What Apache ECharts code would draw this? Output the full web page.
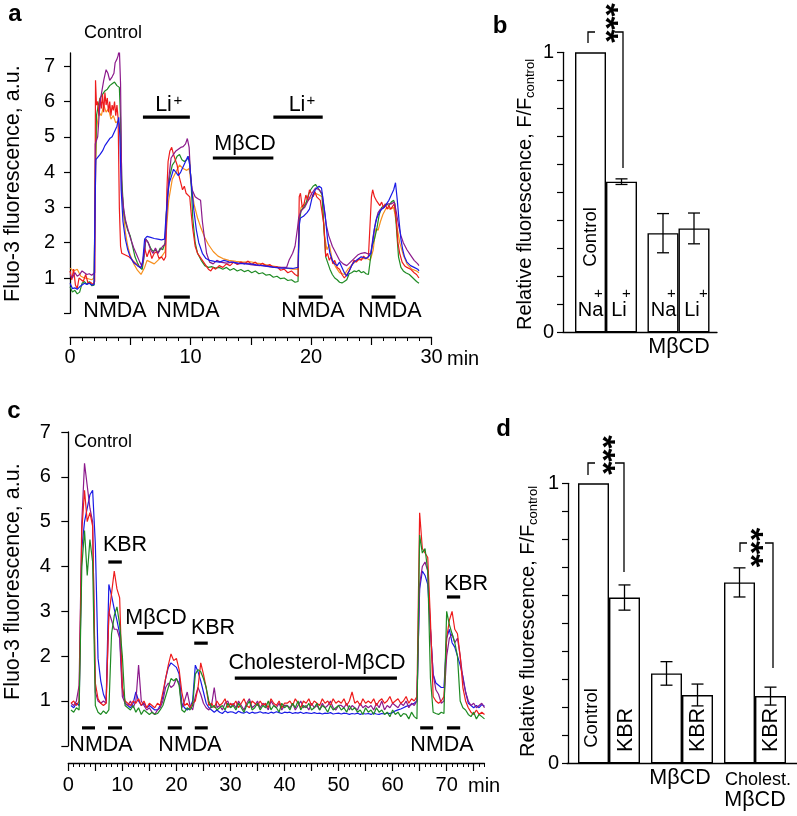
<!DOCTYPE html>
<html><head><meta charset="utf-8">
<script src="https://cdn.jsdelivr.net/npm/echarts@6/dist/echarts.min.js"></script>
<style>html,body{margin:0;padding:0;background:#fff}#c{width:797px;height:816px}</style>
</head><body><div id="c"></div>
<script>
// ---------------- DATA ----------------
// Panel a: Fluo-3 traces, [time (min), fluorescence (a.u.)]
const aOrange = [[0,1.28],[0.3,1.2],[0.6,1.25],[0.9,1.05],[1.2,1.0],[1.5,0.98],[1.8,0.95],[2.0,1.0],[2.1,3.5],[2.2,5.2],[2.4,5.7],[2.6,5.6],[2.8,5.9],[3.0,5.7],[3.2,5.8],[3.4,5.5],[3.6,5.6],[3.8,5.4],[4.0,5.45],[4.15,5.3],[4.3,3.6],[4.45,2.8],[4.6,2.3],[4.8,1.9],[5.0,1.65],[5.3,1.4],[5.6,1.22],[5.9,1.1],[6.0,1.08],[6.2,1.3],[6.4,1.5],[6.7,1.45],[7.0,1.4],[7.3,1.5],[7.6,1.6],[7.9,1.75],[8.0,2.3],[8.2,3.2],[8.5,3.8],[8.8,4.0],[9.1,4.2],[9.4,4.1],[9.7,4.05],[9.9,4.1],[10.1,3.6],[10.3,3.1],[10.6,2.7],[10.9,2.4],[11.2,2.15],[11.5,1.95],[11.9,1.75],[12.3,1.62],[12.7,1.55],[13.2,1.5],[13.8,1.47],[14.4,1.45],[15.0,1.46],[15.5,1.42],[16.0,1.4],[16.5,1.36],[17.0,1.33],[17.5,1.3],[18.0,1.28],[18.5,1.25],[18.95,1.25],[19.05,2.6],[19.2,3.0],[19.5,3.1],[19.8,3.2],[20.1,3.3],[20.4,3.4],[20.7,3.35],[20.95,3.3],[21.15,2.2],[21.35,1.8],[21.55,1.95],[21.8,1.5],[22.1,1.3],[22.4,1.15],[22.8,1.1],[23.1,1.25],[23.5,1.4],[23.9,1.5],[24.3,1.55],[24.7,1.55],[24.95,1.5],[25.2,1.8],[25.4,2.4],[25.6,2.35],[25.8,2.6],[26.0,2.8],[26.3,3.0],[26.6,2.95],[26.9,3.0],[27.1,2.6],[27.4,2.0],[27.7,1.65],[28.0,1.4],[28.4,1.25],[28.8,1.2],[29.0,1.15]];
const aGreen = [[0,0.75],[0.2,0.6],[0.4,0.65],[0.6,0.55],[0.8,0.6],[1.0,0.85],[1.2,0.9],[1.4,0.82],[1.6,0.9],[1.8,0.78],[2.0,0.8],[2.1,4.0],[2.2,5.6],[2.35,5.9],[2.5,6.1],[2.7,6.2],[2.9,6.3],[3.1,6.35],[3.3,6.45],[3.5,6.5],[3.7,6.55],[3.9,6.45],[4.1,6.4],[4.2,5.5],[4.3,3.8],[4.45,2.9],[4.6,2.6],[4.8,2.35],[5.0,2.2],[5.2,1.9],[5.4,1.6],[5.6,1.43],[5.8,1.3],[6.0,1.24],[6.15,1.6],[6.3,2.1],[6.5,2.0],[6.7,1.85],[6.9,1.75],[7.1,1.8],[7.3,1.7],[7.5,1.85],[7.7,1.8],[7.9,2.0],[8.0,2.8],[8.15,3.5],[8.3,3.9],[8.5,4.2],[8.7,4.3],[8.9,4.45],[9.1,4.5],[9.3,4.35],[9.5,4.3],[9.7,4.35],[9.9,4.45],[10.05,3.8],[10.2,2.7],[10.4,2.0],[10.6,1.7],[10.9,1.5],[11.2,1.35],[11.5,1.3],[11.8,1.32],[12.1,1.28],[12.4,1.3],[12.7,1.25],[13.0,1.3],[13.3,1.22],[13.6,1.27],[13.9,1.2],[14.2,1.24],[14.5,1.18],[14.8,1.22],[15.1,1.15],[15.4,1.2],[15.7,1.12],[16.0,1.15],[16.3,1.08],[16.6,1.1],[16.9,1.02],[17.2,1.05],[17.5,0.98],[17.8,1.0],[18.1,0.93],[18.4,0.95],[18.7,0.88],[18.95,0.9],[19.05,2.6],[19.2,2.9],[19.4,3.0],[19.6,3.1],[19.8,3.35],[20.0,3.5],[20.2,3.6],[20.4,3.65],[20.6,3.55],[20.8,3.45],[20.95,3.35],[21.1,2.4],[21.25,1.6],[21.4,1.45],[21.6,1.25],[21.8,1.1],[22.0,1.0],[22.2,0.95],[22.4,0.88],[22.6,0.86],[22.8,0.9],[23.0,0.95],[23.2,1.12],[23.4,1.15],[23.6,1.2],[23.8,1.18],[24.0,1.22],[24.2,1.15],[24.4,1.18],[24.6,1.12],[24.8,1.1],[24.95,1.12],[25.1,1.9],[25.3,2.1],[25.5,2.4],[25.7,2.8],[25.9,3.0],[26.1,3.05],[26.3,3.1],[26.5,3.05],[26.7,3.15],[26.9,3.2],[27.0,3.1],[27.15,2.3],[27.3,1.6],[27.5,1.3],[27.7,1.2],[27.9,1.15],[28.2,1.1],[28.5,1.0],[28.8,0.9],[29.0,0.85]];
const aRed = [[0,1.2],[0.15,0.95],[0.3,1.25],[0.45,0.8],[0.6,0.7],[0.75,1.0],[0.9,1.05],[1.1,0.9],[1.3,1.1],[1.5,0.85],[1.7,0.88],[1.9,0.82],[2.05,0.9],[2.12,6.6],[2.2,5.9],[2.3,6.0],[2.4,5.6],[2.5,6.1],[2.6,5.8],[2.7,6.2],[2.8,5.7],[2.9,6.25],[3.0,5.9],[3.1,6.1],[3.2,5.7],[3.3,6.0],[3.4,5.6],[3.5,5.9],[3.6,5.75],[3.7,6.0],[3.8,5.6],[3.9,5.9],[4.0,5.5],[4.1,3.0],[4.2,1.9],[4.3,1.7],[4.6,1.65],[4.9,1.6],[5.2,1.5],[5.5,1.4],[5.8,1.3],[6.0,1.35],[6.2,1.85],[6.4,1.6],[6.6,1.8],[6.8,1.55],[7.0,1.7],[7.2,1.75],[7.4,1.55],[7.6,1.6],[7.8,1.5],[7.95,1.6],[8.05,3.5],[8.15,4.3],[8.3,4.6],[8.45,4.7],[8.6,4.5],[8.75,4.55],[8.9,4.2],[9.05,3.9],[9.2,3.7],[9.35,3.5],[9.5,3.6],[9.65,3.4],[9.8,3.45],[9.95,3.3],[10.05,2.9],[10.2,2.4],[10.4,1.9],[10.6,1.7],[10.9,1.55],[11.1,1.45],[11.3,1.35],[11.5,1.25],[11.7,1.2],[11.9,1.3],[12.1,1.25],[12.4,1.35],[12.7,1.3],[13.0,1.4],[13.3,1.35],[13.6,1.45],[13.9,1.38],[14.2,1.45],[14.5,1.4],[14.8,1.48],[15.1,1.38],[15.4,1.45],[15.7,1.35],[16.0,1.42],[16.3,1.34],[16.6,1.38],[16.9,1.3],[17.2,1.32],[17.5,1.22],[17.8,1.25],[18.1,1.15],[18.4,1.2],[18.7,1.1],[18.95,1.05],[19.05,3.3],[19.15,3.4],[19.3,3.0],[19.45,3.1],[19.6,3.35],[19.75,3.2],[19.9,3.5],[20.05,3.55],[20.2,3.3],[20.35,3.45],[20.5,3.3],[20.65,3.35],[20.8,3.2],[20.95,3.25],[21.1,2.5],[21.25,1.6],[21.4,1.7],[21.55,1.5],[21.7,1.6],[21.85,1.4],[22.0,1.5],[22.2,1.3],[22.4,1.25],[22.6,1.1],[22.8,1.0],[23.0,1.1],[23.2,1.2],[23.4,1.35],[23.6,1.5],[23.8,1.45],[24.0,1.55],[24.2,1.5],[24.4,1.62],[24.6,1.55],[24.8,1.6],[24.95,1.55],[25.05,3.3],[25.15,3.5],[25.3,3.3],[25.45,3.2],[25.6,3.25],[25.75,3.05],[25.9,3.15],[26.05,3.0],[26.2,3.1],[26.35,2.95],[26.5,3.05],[26.65,2.95],[26.8,3.0],[26.95,3.1],[27.1,2.7],[27.25,2.0],[27.4,1.7],[27.6,1.45],[27.8,1.35],[28.0,1.3],[28.3,1.25],[28.6,1.15],[28.8,1.1],[29.0,1.0]];
const aPurple = [[0,1.1],[0.2,1.0],[0.4,1.15],[0.6,1.05],[0.8,1.1],[1.0,1.2],[1.2,1.15],[1.4,1.1],[1.6,1.12],[1.8,1.08],[2.05,1.15],[2.1,4.8],[2.3,5.0],[2.5,6.0],[2.8,6.6],[3.0,6.9],[3.15,6.8],[3.3,6.6],[3.5,6.7],[3.65,6.8],[3.75,7.1],[3.9,7.2],[4.0,7.3],[4.1,7.5],[4.2,6.5],[4.3,3.5],[4.45,3.0],[4.6,2.65],[4.8,2.4],[5.0,2.15],[5.3,1.85],[5.55,1.65],[5.8,1.45],[5.95,1.35],[6.1,1.5],[6.3,2.1],[6.5,2.0],[6.7,1.8],[6.9,1.7],[7.1,1.85],[7.3,1.7],[7.5,1.8],[7.7,1.9],[7.9,1.95],[8.0,2.5],[8.2,3.8],[8.4,4.4],[8.6,4.5],[8.8,4.6],[9.0,4.65],[9.2,4.7],[9.4,4.72],[9.6,4.8],[9.75,4.95],[9.9,4.7],[10.0,4.0],[10.15,3.5],[10.4,3.3],[10.6,3.25],[10.85,3.2],[11.0,2.6],[11.15,2.2],[11.35,1.7],[11.6,1.45],[11.9,1.4],[12.2,1.5],[12.5,1.45],[13.0,1.42],[13.5,1.45],[14.0,1.4],[14.5,1.42],[15.0,1.38],[15.5,1.36],[16.0,1.35],[16.5,1.32],[17.0,1.3],[17.5,1.3],[18.0,1.3],[18.2,1.5],[18.5,1.7],[18.7,1.9],[18.9,2.4],[19.0,2.7],[19.2,2.9],[19.5,3.0],[19.8,3.2],[20.1,3.4],[20.4,3.55],[20.7,3.5],[20.95,3.4],[21.1,3.0],[21.3,2.5],[21.5,2.2],[21.8,1.9],[22.1,1.7],[22.4,1.5],[22.7,1.4],[23.0,1.35],[23.3,1.45],[23.6,1.55],[23.9,1.65],[24.2,1.7],[24.5,1.72],[24.8,1.68],[25.0,1.7],[25.2,2.2],[25.4,2.6],[25.6,2.85],[25.8,2.95],[26.1,3.0],[26.4,3.1],[26.7,3.1],[26.95,3.15],[27.1,2.9],[27.3,2.5],[27.5,2.2],[27.7,2.0],[28.0,1.8],[28.3,1.65],[28.6,1.5],[28.9,1.4],[29.0,1.35]];
const aBlue = [[0,0.85],[0.2,0.7],[0.4,0.72],[0.6,0.68],[0.8,0.75],[1.0,0.8],[1.2,0.85],[1.4,0.82],[1.6,0.85],[1.8,0.8],[2.0,0.82],[2.08,3.0],[2.15,4.35],[2.3,4.4],[2.5,4.5],[2.7,4.6],[2.9,4.75],[3.1,4.85],[3.3,4.95],[3.5,5.0],[3.7,5.15],[3.9,5.3],[4.05,5.55],[4.15,5.0],[4.25,3.5],[4.4,2.6],[4.6,2.1],[4.8,1.8],[5.0,1.6],[5.3,1.43],[5.6,1.35],[5.9,1.28],[6.05,1.5],[6.2,2.1],[6.4,2.18],[6.7,2.15],[7.0,2.12],[7.3,2.1],[7.6,2.08],[7.85,2.1],[7.95,2.6],[8.1,3.3],[8.25,3.7],[8.4,3.85],[8.6,4.08],[8.8,4.0],[9.0,3.9],[9.2,4.0],[9.4,4.15],[9.6,4.3],[9.8,4.45],[9.95,4.2],[10.1,3.58],[10.3,2.9],[10.5,2.36],[10.7,2.0],[11.0,1.7],[11.3,1.55],[11.6,1.5],[12.0,1.47],[12.4,1.45],[12.8,1.5],[13.2,1.46],[13.6,1.44],[14.0,1.42],[14.5,1.4],[15.0,1.4],[15.5,1.37],[16.0,1.35],[16.5,1.33],[17.0,1.3],[17.5,1.28],[18.0,1.28],[18.5,1.27],[18.95,1.3],[19.05,2.5],[19.15,2.7],[19.4,2.75],[19.7,2.85],[19.9,2.95],[20.1,3.25],[20.3,3.45],[20.5,3.55],[20.7,3.6],[20.9,3.55],[21.05,3.5],[21.2,2.8],[21.4,2.1],[21.6,1.7],[21.8,1.5],[22.0,1.4],[22.2,1.35],[22.4,1.45],[22.6,1.3],[22.8,1.15],[23.0,1.05],[23.2,1.2],[23.4,1.35],[23.6,1.45],[23.8,1.5],[24.0,1.55],[24.2,1.6],[24.4,1.58],[24.6,1.55],[24.8,1.6],[25.0,1.7],[25.15,2.0],[25.3,2.4],[25.5,2.7],[25.7,2.85],[25.9,2.95],[26.1,3.0],[26.3,3.1],[26.5,3.2],[26.7,3.35],[26.9,3.5],[27.05,3.7],[27.2,3.2],[27.35,2.6],[27.5,2.1],[27.65,1.8],[27.8,1.6],[28.0,1.45],[28.3,1.35],[28.6,1.3],[28.9,1.25],[29.0,1.2]];
// Panel a stimulus periods [start, end] (min)
const aNmda = [[2.24,4.07],[7.8,9.96],[19.0,21.0],[25.06,27.05]];
const aLi = [[6.06,9.96],[16.9,21.0]];
const aMbcd = [[11.87,16.9]];

// Panel c: Fluo-3 traces sampled every 0.5 min from t = 0.5 min
const C_T0 = 0.5, C_DT = 0.5;
const cRed = [
 0.95,1.0,0.9,1.0,4.8,5.7,5.0,5.2,4.9,1.4,
 1.05,0.95,0.9,0.95,2.9,3.4,3.9,3.5,3.3,1.3,
 1.0,0.95,0.9,1.0,0.95,1.05,0.9,1.0,0.85,0.95,
 0.9,0.85,0.95,0.9,1.2,1.5,1.8,2.05,1.9,1.95,
 1.7,1.2,0.9,0.95,0.85,0.95,1.0,1.3,1.85,1.6,
 1.3,0.9,0.95,0.85,1.0,0.9,0.95,1.05,0.85,0.95,
 0.9,1.0,0.85,0.95,1.05,0.9,0.85,1.0,0.95,0.9,
 1.0,0.9,0.95,0.85,1.05,0.95,0.9,1.0,0.85,0.95,
 0.95,1.0,0.9,1.05,0.95,0.85,1.0,0.95,1.05,0.9,
 1.0,0.95,0.9,1.05,0.95,1.0,0.9,1.05,0.95,1.0,
 0.95,1.05,0.9,1.0,1.2,0.95,1.0,0.9,1.05,0.95,
 1.0,0.95,1.05,0.9,1.0,1.05,0.95,1.0,1.1,0.95,
 1.0,1.05,0.95,1.0,1.1,0.95,1.05,1.0,1.1,5.2,
 4.4,4.3,4.2,2.8,1.1,1.0,0.95,1.0,1.1,2.4,
 2.8,3.0,2.6,2.5,2.0,1.3,1.0,0.85,0.75,0.7,
 0.8,0.7,0.75,0.7];
const cBlue = [
 0.9,0.85,0.95,0.9,4.4,5.0,5.3,5.6,5.7,4.5,
 1.95,1.45,1.15,1.0,3.6,3.35,3.05,2.8,2.5,1.3,
 0.95,0.9,0.85,0.95,1.2,1.0,0.9,0.95,0.85,0.9,
 0.85,0.8,0.8,0.9,1.1,1.5,1.75,1.85,1.8,1.75,
 1.6,0.95,0.85,0.8,0.85,1.0,1.8,1.65,1.45,1.2,
 0.95,0.85,0.8,0.75,0.8,0.75,0.72,0.78,0.74,0.76,
 0.75,0.72,0.77,0.74,0.73,0.76,0.72,0.75,0.73,0.74,
 0.76,0.73,0.74,0.72,0.75,0.73,0.76,0.74,0.72,0.75,
 0.74,0.75,0.72,0.74,0.73,0.75,0.72,0.74,0.73,0.72,
 0.74,0.72,0.73,0.71,0.73,0.72,0.74,0.71,0.72,0.73,
 0.71,0.73,0.72,0.7,0.72,0.71,0.73,0.7,0.72,0.71,
 0.72,0.7,0.73,0.71,0.7,0.72,0.71,0.73,0.72,0.74,
 0.78,0.8,0.82,0.85,0.88,0.9,0.92,0.95,1.0,3.5,
 3.9,3.8,3.6,2.6,1.6,1.4,1.35,1.3,1.3,2.4,
 2.6,2.3,2.2,2.0,1.8,1.55,1.2,0.95,0.9,0.85,
 0.9,0.85,0.92,0.88];
const cGreen = [
 0.8,0.75,0.85,0.8,4.0,4.8,3.8,4.6,4.1,0.9,
 0.75,0.7,0.78,0.72,0.8,2.5,2.9,3.1,2.7,2.0,
 0.9,0.85,0.8,0.9,0.75,0.85,0.7,0.8,0.75,0.7,
 0.75,0.7,0.72,0.8,0.9,1.1,1.3,1.5,1.45,1.5,
 1.35,0.8,0.75,0.85,0.8,0.9,1.6,1.7,1.65,1.5,
 1.3,1.0,0.85,0.9,0.8,0.85,0.9,0.8,0.95,0.85,
 0.9,0.8,0.95,0.85,0.75,0.9,1.0,0.8,0.85,0.95,
 0.8,0.9,0.85,1.0,0.8,0.9,0.85,0.75,0.95,0.85,
 0.9,0.8,0.95,0.85,1.0,0.8,0.9,0.85,0.95,0.8,
 0.85,0.95,0.8,0.9,0.85,0.75,0.9,0.8,0.85,0.9,
 0.8,0.85,0.75,0.9,0.8,0.85,0.75,0.8,0.7,0.85,
 0.75,0.8,0.7,0.85,0.75,0.8,0.7,0.75,0.65,0.8,
 0.7,0.75,0.65,0.72,0.7,0.6,0.75,0.65,0.6,4.7,
 4.3,4.4,3.9,1.5,0.75,0.72,0.7,0.75,0.72,3.0,
 2.7,2.5,2.3,2.0,1.0,0.85,0.8,0.7,0.65,0.75,
 0.6,0.7,0.65,0.6];
const cPurple = [
 0.95,0.9,1.0,1.35,5.0,6.3,5.8,5.3,5.0,1.2,
 1.0,0.95,1.0,0.95,3.0,2.8,2.6,2.6,2.4,1.1,
 0.95,0.9,1.0,0.85,1.0,1.8,1.0,0.9,0.8,0.85,
 0.75,0.7,0.8,0.85,1.0,1.3,1.4,1.3,1.35,1.5,
 1.4,0.85,1.0,1.2,0.9,0.8,1.1,1.3,1.15,0.95,
 0.85,0.8,0.9,1.3,0.85,0.9,0.8,0.95,1.0,0.85,
 0.95,0.85,1.0,0.9,0.8,0.95,1.05,0.85,0.9,1.0,
 0.85,0.95,0.9,0.8,1.0,0.9,0.85,0.95,0.8,0.9,
 0.9,0.85,0.95,0.8,0.9,1.0,0.85,0.9,0.8,0.95,
 0.85,0.9,0.8,0.95,0.85,0.9,1.0,0.85,0.8,0.9,
 0.9,0.85,0.95,0.8,0.9,0.85,0.8,0.95,0.85,0.9,
 0.85,0.9,0.8,0.95,0.85,1.0,0.8,0.9,0.85,0.95,
 0.9,0.85,0.95,0.9,1.0,0.85,0.95,0.9,1.0,3.6,
 4.0,4.1,3.9,2.6,1.6,1.25,1.15,0.95,1.0,2.0,
 2.4,2.5,2.3,2.4,2.0,1.5,1.2,1.0,0.9,0.95,
 0.85,0.9,0.95,0.85];
// Panel c stimulus periods [start, end] (min)
const cNmda = [[2.53,4.94],[7.34,9.94],[18.4,21.0],[23.4,25.8],[65.1,67.5],[70.05,72.5]];
const cKbr1 = [[7.4,9.9]];
const cKbr2 = [[23.3,25.8]];
const cKbr3 = [[70.05,72.5]];
const cMbcd = [[12.7,17.6]];
const cChol = [[30.8,60.8]];

// Panel b: relative fluorescence (mean, error)
const bGroups = ['Control', 'MβCD'];
const bNa = [1.0, 0.354];
const bNaErr = [0, 0.07];
const bLi = [0.538, 0.371];
const bLiErr = [0.01, 0.055];

// Panel d
const dGroups = ['Control', 'MβCD', 'Cholest. MβCD'];
const dFirst = [1.0, 0.321, 0.646];
const dFirstErr = [0, 0.042, 0.052];
const dKbr = [0.592, 0.244, 0.240];
const dKbrErr = [0.045, 0.039, 0.032];

// Tick values
const aYTicks = [0,1,2,3,4,5,6,7];
const aYLabels = [1,2,3,4,5,6,7];
const cYLabels = [1,2,3,4,5,6,7];
const cXMajor = [0,5,10,15,20,25,30,35,40,45,50,55,60,65,70,75];
const cXLabels = [0,10,20,30,40,50,60,70];
const fracLabels = [0,1];

// ---------------- LAYOUT / STYLE ----------------
const FONT = '"Liberation Sans", Arial, Helvetica, sans-serif';
const BW = 31;
const COL = {red:'#ee1c1c', orange:'#f7901e', green:'#1f8b24', blue:'#1a1ae6', purple:'#8c1a8c'};
const AX = {lineStyle:{color:'#000', width:1.3}};
const LV = {aNmda:0.46, aLi:5.56, aMbcd:4.4, cNmda:0.40, cKbr1:4.10, cMbcd:2.51, cKbr2:2.29, cChol:1.51, cKbr3:3.32};

const cPairs = arr => arr.map((v, i) => [C_T0 + i * C_DT, v]);

function trace(xi, yi, data, color) {
  return {type:'line', xAxisIndex:xi, yAxisIndex:yi, data, showSymbol:false, symbol:'none', silent:true,
    lineStyle:{color, width:1.2}, itemStyle:{color}, z:3};
}
function stim(xi, yi, periods, level) {
  return {type:'custom', xAxisIndex:xi, yAxisIndex:yi, silent:true, z:6,
    data: periods.map(p => [p[0], p[1], level]), encode:{x:[0,1], y:2},
    renderItem:(params, api) => {
      const a = api.coord([api.value(0), api.value(2)]);
      const b = api.coord([api.value(1), api.value(2)]);
      return {type:'line', shape:{x1:a[0], y1:a[1], x2:b[0], y2:b[1]}, style:{stroke:'#000', lineWidth:3.2}};
    }};
}
function bars(xi, yi, data) {
  return {type:'bar', xAxisIndex:xi, yAxisIndex:yi, data, barWidth:BW, barGap:'0%', silent:true, z:3,
    itemStyle:{color:'#fff', borderColor:'#000', borderWidth:1.4}};
}
function errs(xi, yi, vals, e, slot) {
  return {type:'custom', xAxisIndex:xi, yAxisIndex:yi, silent:true, z:8,
    data: vals.map((v, i) => [i, v, e[i]]), encode:{x:0, y:1},
    renderItem:(params, api) => {
      const er = api.value(2);
      if (!er) return {type:'group', children:[]};
      const i = api.value(0), v = api.value(1);
      const c = api.coord([i, v]);
      const t = api.coord([i, v + er])[1], b = api.coord([i, v - er])[1];
      const x = c[0] + slot * BW / 2;
      const st = {stroke:'#000', lineWidth:1.3};
      return {type:'group', children:[
        {type:'line', shape:{x1:x, y1:t, x2:x, y2:b}, style:st},
        {type:'line', shape:{x1:x-6, y1:t, x2:x+6, y2:t}, style:st},
        {type:'line', shape:{x1:x-6, y1:b, x2:x+6, y2:b}, style:st}]};
    }};
}
const T = (text, x, y, size, o = {}) => ({type:'text', x, y, rotation:o.rot || 0, silent:true, z:100,
  style:{text, fill:'#000', font:(o.bold ? 'bold ' : '') + size + 'px ' + FONT,
    align:o.align || 'center', verticalAlign:'middle', textAlign:o.align || 'center', textVerticalAlign:'middle'}});
const P = pts => ({type:'polyline', silent:true, z:100, shape:{points:pts}, style:{stroke:'#000', lineWidth:1.3, fill:null}});
const R90 = Math.PI / 2;
const LS = 21.5;

const hidY = (gi) => ({gridIndex:gi, type:'value', show:false, min:0, max:1});
const fracY = (gi, off) => ({gridIndex:gi, type:'value', min:0, max:1, interval:0.1, offset:off,
  axisLine:{show:true, ...AX}, axisTick:{show:true, length:6, lineStyle:{color:'#000', width:1.2}},
  splitLine:{show:false},
  axisLabel:{customValues:fracLabels, formatter:v => (Math.abs(v) < 1e-9 ? '0' : (Math.abs(v - 1) < 1e-9 ? '1' : '')),
    fontSize:20, fontFamily:FONT, color:'#000', margin:9}});

const option = {
  animation:false,
  backgroundColor:'#fff',
  grid:[
    {left:64, top:53, width:367, height:260.3},          // 0 a data
    {left:70, top:300, width:361.5, height:37},           // 1 a x-axis
    {left:62.9, top:432, width:424.3, height:313.8},      // 2 c data
    {left:68.3, top:730, width:416.2, height:33},         // 3 c x-axis major
    {left:569.75, top:52.3, width:145, height:280},       // 4 b bars
    {left:563, top:52.3, width:154, height:280},          // 5 b baseline
    {left:572.5, top:483.3, width:219, height:280},       // 6 d bars
    {left:567, top:483.3, width:230, height:280},         // 7 d baseline
    {left:68.3, top:730, width:416.2, height:33}          // 8 c x-axis minor
  ],
  xAxis:[
    {gridIndex:0, type:'value', min:-0.5, max:30, show:false},
    {gridIndex:1, type:'value', min:0, max:30, interval:5, position:'bottom',
      axisLine:{show:true, onZero:false, ...AX}, axisTick:{show:true, length:8, lineStyle:{color:'#000', width:1.2}},
      minorTick:{show:true, splitNumber:5, length:4, lineStyle:{color:'#000', width:1}},
      splitLine:{show:false},
      axisLabel:{formatter:v => (v % 10 === 0 ? String(v) : ''), fontSize:20, fontFamily:FONT, color:'#000', margin:10}},
    {gridIndex:2, type:'value', min:-1, max:77.5, show:false},
    {gridIndex:3, type:'value', min:0, max:77, interval:5, position:'bottom',
      axisLine:{show:true, onZero:false, ...AX},
      axisTick:{show:true, length:8, customValues:cXMajor, lineStyle:{color:'#000', width:1.2}},
      splitLine:{show:false},
      axisLabel:{customValues:cXLabels, formatter:v => (v % 10 === 0 ? String(v) : ''), fontSize:20, fontFamily:FONT, color:'#000', margin:12}},
    {gridIndex:4, type:'category', data:bGroups, show:false},
    {gridIndex:5, type:'value', min:0, max:1, axisLine:{show:true, onZero:false, ...AX}, axisTick:{show:false}, axisLabel:{show:false}, splitLine:{show:false}},
    {gridIndex:6, type:'category', data:dGroups, show:false},
    {gridIndex:7, type:'value', min:0, max:1, axisLine:{show:true, onZero:false, ...AX}, axisTick:{show:false}, axisLabel:{show:false}, splitLine:{show:false}},
    {gridIndex:8, type:'value', min:0, max:77, interval:1, position:'bottom',
      axisLine:{show:false}, axisTick:{show:true, length:4, lineStyle:{color:'#000', width:1}}, axisLabel:{show:false}, splitLine:{show:false}}
  ],
  yAxis:[
    {gridIndex:0, type:'value', min:0, max:7.374, interval:1,
      axisLine:{show:true, ...AX}, axisTick:{show:true, length:6, customValues:aYTicks, lineStyle:{color:'#000', width:1.2}},
      splitLine:{show:false},
      axisLabel:{customValues:aYLabels, formatter:v => (v >= 1 && Number.isInteger(v) ? String(v) : ''), fontSize:20, fontFamily:FONT, color:'#000', margin:9}},
    hidY(1),
    {gridIndex:2, type:'value', min:0, max:7, interval:1,
      axisLine:{show:true, ...AX}, axisTick:{show:true, length:7, lineStyle:{color:'#000', width:1.2}},
      splitLine:{show:false},
      axisLabel:{customValues:cYLabels, formatter:v => (v >= 1 ? String(v) : ''), fontSize:20, fontFamily:FONT, color:'#000', margin:12}},
    hidY(3),
    fracY(4, 6.75),
    hidY(5),
    fracY(6, 4.5),
    hidY(7),
    hidY(8)
  ],
  series:[
    trace(0, 0, aOrange, COL.orange),
    trace(0, 0, aGreen, COL.green),
    trace(0, 0, aRed, COL.red),
    trace(0, 0, aPurple, COL.purple),
    trace(0, 0, aBlue, COL.blue),
    stim(0, 0, aNmda, LV.aNmda),
    stim(0, 0, aLi, LV.aLi),
    stim(0, 0, aMbcd, LV.aMbcd),
    trace(2, 2, cPairs(cBlue), COL.blue),
    trace(2, 2, cPairs(cPurple), COL.purple),
    trace(2, 2, cPairs(cRed), COL.red),
    trace(2, 2, cPairs(cGreen), COL.green),
    stim(2, 2, cNmda, LV.cNmda),
    stim(2, 2, cKbr1, LV.cKbr1),
    stim(2, 2, cMbcd, LV.cMbcd),
    stim(2, 2, cKbr2, LV.cKbr2),
    stim(2, 2, cChol, LV.cChol),
    stim(2, 2, cKbr3, LV.cKbr3),
    bars(4, 4, bNa),
    bars(4, 4, bLi),
    errs(4, 4, bNa, bNaErr, -1),
    errs(4, 4, bLi, bLiErr, 1),
    bars(6, 6, dFirst),
    bars(6, 6, dKbr),
    errs(6, 6, dFirst, dFirstErr, -1),
    errs(6, 6, dKbr, dKbrErr, 1)
  ],
  graphic:[
    // panel letters
    T('a', 15, 14, 24, {bold:true}),
    T('b', 500, 26.5, 24, {bold:true}),
    T('c', 14, 411.5, 24, {bold:true}),
    T('d', 503.5, 429.5, 24, {bold:true}),
    // panel a
    T('Fluo-3 fluorescence, a.u.', 13, 302, LS, {rot:R90, align:'left'}),
    T('Control', 113, 33.5, 18),
    T('Li', 163.5, 105.5, LS), T('+', 178, 101, 15),
    T('MβCD', 245, 144, LS),
    T('Li', 297, 105.5, LS), T('+', 311, 101, 15),
    T('NMDA', 115, 311, LS), T('NMDA', 188, 311, LS), T('NMDA', 313, 311, LS), T('NMDA', 390, 311, LS),
    T('min', 447, 359, 20, {align:'left'}),
    // panel c
    T('Fluo-3 fluorescence, a.u.', 13, 700, LS, {rot:R90, align:'left'}),
    T('Control', 103, 442.5, 18),
    T('KBR', 125, 545.5, LS),
    T('MβCD', 156, 618.5, LS),
    T('KBR', 213, 628.5, LS),
    T('Cholesterol-MβCD', 317, 663, LS),
    T('KBR', 466, 584.5, LS),
    T('NMDA', 101, 745, LS), T('NMDA', 190, 745, LS), T('NMDA', 442, 745, LS),
    T('min', 468, 786, 20, {align:'left'}),
    // panel b
    T('Relative fluorescence, F/F', 525, 330, 20, {rot:R90, align:'left'}),
    T('control', 530.5, 98, 13, {rot:R90, align:'left'}),
    T('Control', 591, 237, 18.5, {rot:R90}),
    T('Na', 590.5, 310, 20), T('+', 598.5, 294, 15),
    T('Li', 619, 310, 20), T('+', 626.5, 294, 15),
    T('Na', 663.5, 310, 20), T('+', 671.5, 294, 15),
    T('Li', 692, 310, 20), T('+', 703.5, 294, 15),
    T('MβCD', 679, 347, LS),
    P([[588,43],[588,32],[595,32]]), P([[615,32],[623,32],[623,168]]),
    T('***', 604, 23, 34, {rot:-R90, bold:true}),
    // panel d
    T('Relative fluorescence, F/F', 528, 757, 20, {rot:R90, align:'left'}),
    T('control', 533.5, 525, 13, {rot:R90, align:'left'}),
    T('Control', 592, 718, 18.5, {rot:R90}),
    T('KBR', 626, 730, LS, {rot:R90}),
    T('KBR', 698, 730, LS, {rot:R90}),
    T('KBR', 771, 730, LS, {rot:R90}),
    T('MβCD', 680, 778.5, LS),
    T('Cholest.', 758, 780, 18),
    T('MβCD', 755, 800, LS),
    P([[588,475],[588,463],[595,463]]), P([[615,463],[624,463],[624,572]]),
    T('***', 601, 455, 34, {rot:-R90, bold:true}),
    P([[740,552],[740,543],[747,543]]), P([[765,543],[773,543],[773,668]]),
    T('***', 749, 547.5, 34, {rot:-R90, bold:true})
  ]
};
const chart = echarts.init(document.getElementById('c'), null, {renderer:'canvas'});
chart.setOption(option);
</script></body></html>
